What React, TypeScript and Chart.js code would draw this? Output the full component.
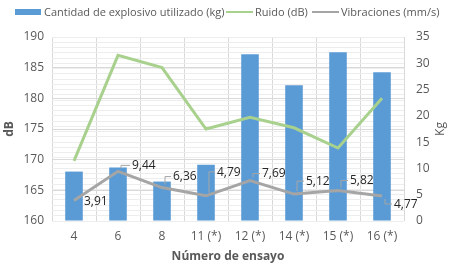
import React, { useEffect, useRef } from "react";
import { Chart, registerables } from "chart.js";
Chart.register(...registerables);

const categories = ["4", "6", "8", "11 (*)", "12 (*)", "14 (*)", "15 (*)", "16 (*)"];
const explosivoKg = [9.4, 10.2, 7.5, 10.7, 31.7, 25.8, 32.1, 28.3];
const ruidoDb = [169.8, 187.0, 185.0, 175.0, 176.9, 175.2, 171.9, 180.0];
const vibracionesMms = [3.91, 9.44, 6.36, 4.79, 7.69, 5.12, 5.82, 4.77];
const vibracionesText = ["3,91", "9,44", "6,36", "4,79", "7,69", "5,12", "5,82", "4,77"];

const seriesNames = ["Cantidad de explosivo utilizado (kg)", "Ruido (dB)", "Vibraciones (mm/s)"];
const xTitle = "Número de ensayo";
const leftTitle = "dB";
const rightTitle = "Kg";

const FONT = "'Open Sans', 'Noto Sans', sans-serif";
const BLUE = "#5b9bd5";
const GREEN = "#a9d18e";
const GRAY = "#a5a5a5";
const TEXT = "#595959";

// label placement relative to point (text left, text middle)
const labelOffsets = [
  [10, 1], [14, -6], [11, -11], [11, -24], [12, -7], [12, -13], [12, -10], [12, 8],
];

const labelPlugin = {
  id: "vibLabels",
  afterDatasetsDraw(chart: any) {
    const meta = chart.getDatasetMeta(2);
    const ctx = chart.ctx;
    ctx.save();
    ctx.font = `12px ${FONT}`;
    ctx.textBaseline = "middle";
    ctx.textAlign = "left";
    meta.data.forEach((pt: any, i: number) => {
      const [dx, dy] = labelOffsets[i];
      const tx = pt.x + dx;
      const ty = pt.y + dy;
      if (Math.abs(dy) > 3) {
        ctx.strokeStyle = "#a6a6a6";
        ctx.lineWidth = 1;
        ctx.beginPath();
        const sx = pt.x + 3;
        const sy = pt.y + (dy < 0 ? -3 : 3);
        ctx.moveTo(sx, sy);
        ctx.lineTo(sx, ty);
        ctx.lineTo(tx - 2, ty);
        ctx.stroke();
      }
      ctx.fillStyle = "#262626";
      ctx.fillText(vibracionesText[i], tx, ty + 0.5);
    });
    ctx.restore();
  },
};

const decorPlugin = {
  id: "decor",
  afterDraw(chart: any) {
    const ctx = chart.ctx;
    const area = chart.chartArea;
    ctx.save();
    // axis titles
    ctx.fillStyle = TEXT;
    ctx.font = `bold 12px ${FONT}`;
    ctx.textAlign = "center";
    ctx.textBaseline = "middle";
    ctx.fillText(xTitle, (area.left + area.right) / 2, 257);
    ctx.save();
    ctx.translate(10, (area.top + area.bottom) / 2);
    ctx.rotate(-Math.PI / 2);
    ctx.fillText(leftTitle, 0, 0);
    ctx.restore();
    ctx.save();
    ctx.translate(441, (area.top + area.bottom) / 2);
    ctx.rotate(-Math.PI / 2);
    ctx.font = `12px ${FONT}`;
    ctx.fillText(rightTitle, 0, 0);
    ctx.restore();
    // legend
    const ly = 12;
    ctx.font = `11px ${FONT}`;
    ctx.textAlign = "left";
    ctx.fillStyle = BLUE;
    ctx.fillRect(15, 9, 26, 6);
    ctx.fillStyle = TEXT;
    ctx.fillText(seriesNames[0], 44, ly + 0.5);
    ctx.strokeStyle = GREEN;
    ctx.lineWidth = 2;
    ctx.beginPath();
    ctx.moveTo(226, ly);
    ctx.lineTo(253, ly);
    ctx.stroke();
    ctx.fillText(seriesNames[1], 255, ly + 0.5);
    ctx.strokeStyle = GRAY;
    ctx.beginPath();
    ctx.moveTo(312, ly);
    ctx.lineTo(339, ly);
    ctx.stroke();
    ctx.fillText(seriesNames[2], 341, ly + 0.5);
    ctx.restore();
  },
};

export default function App() {
  const ref = useRef<HTMLCanvasElement | null>(null);
  useEffect(() => {
    document.body.style.margin = "0";
    const canvas = ref.current!;
    const chart = new Chart(canvas, {
      type: "bar",
      data: {
        labels: categories,
        datasets: [
          {
            type: "bar",
            label: seriesNames[0],
            data: explosivoKg,
            backgroundColor: BLUE,
            yAxisID: "yR",
            order: 3,
            barPercentage: 0.8,
            categoryPercentage: 0.5,
          },
          {
            type: "line",
            label: seriesNames[1],
            data: ruidoDb,
            borderColor: GREEN,
            borderWidth: 3,
            pointRadius: 0,
            tension: 0,
            yAxisID: "yL",
            order: 1,
          },
          {
            type: "line",
            label: seriesNames[2],
            data: vibracionesMms,
            borderColor: GRAY,
            borderWidth: 3,
            pointRadius: 0,
            tension: 0,
            yAxisID: "yR",
            order: 2,
          },
        ] as any,
      },
      options: {
        responsive: false,
        animation: false,
        devicePixelRatio: 1,
        layout: { padding: { top: 37, left: 0, right: 0, bottom: 0 } },
        plugins: { legend: { display: false }, tooltip: { enabled: false } },
        scales: {
          x: {
            grid: { color: "#d9d9d9", drawTicks: false, offset: true },
            border: { display: false },
            ticks: { color: TEXT, font: { family: FONT, size: 12 }, padding: 8, maxRotation: 0 },
            afterFit: (s: any) => { s.height = 46; },
          },
          yL: {
            position: "left",
            min: 160,
            max: 190,
            grid: { color: "#d9d9d9", drawTicks: false },
            border: { display: false },
            ticks: { stepSize: 5, color: TEXT, font: { family: FONT, size: 12 }, padding: 8 },
            afterFit: (s: any) => { s.width = 52; },
          },
          yR: {
            position: "right",
            min: 0,
            max: 35,
            grid: { color: "#ededed", drawTicks: false },
            border: { display: false },
            ticks: {
              stepSize: 1,
              autoSkip: false,
              color: TEXT,
              font: { family: FONT, size: 12 },
              padding: 12,
              callback: (v: any) => (Number(v) % 5 === 0 ? String(v) : ""),
            },
            afterFit: (s: any) => { s.width = 49; },
          },
        } as any,
      },
      plugins: [labelPlugin, decorPlugin],
    });
    return () => chart.destroy();
  }, []);
  return (
    <div style={{ width: 453, height: 267, background: "#fff" }}>
      <canvas ref={ref} width={453} height={267} style={{ width: 453, height: 267, display: "block" }} />
    </div>
  );
}
